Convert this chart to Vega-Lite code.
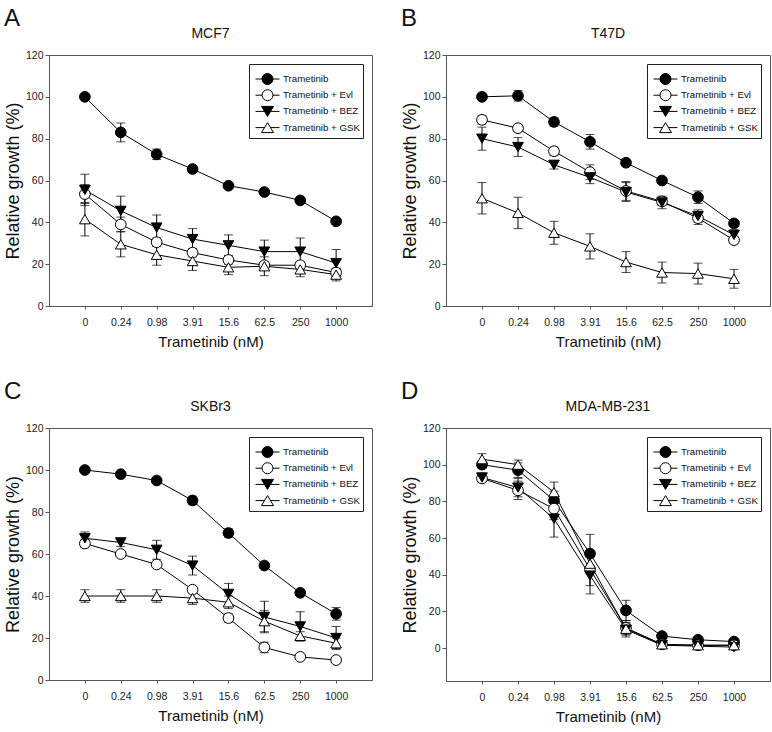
{
  "$schema": "https://vega.github.io/schema/vega-lite/v6.json",
  "padding": {"left": 3, "top": 6, "right": 0, "bottom": 0},
  "config": {
    "font": "Liberation Sans",
    "view": {"stroke": "#555", "strokeWidth": 1},
    "axis": {"grid": false, "domainColor": "#555", "tickColor": "#555", "labelColor": "#222", "titleColor": "#111", "titleFontWeight": "normal", "labelFont": "Liberation Sans", "titleFont": "Liberation Sans"},
    "title": {"font": "Liberation Sans", "fontWeight": "normal", "color": "#111"},
    "legend": {"labelFont": "Liberation Sans", "titleFont": "Liberation Sans"}
  },
  "datasets": {
    "L": [{"s": "Trametinib"}, {"s": "Trametinib + Evl"}, {"s": "Trametinib + BEZ"}, {"s": "Trametinib + GSK"}],
    "A": [
      {"s": "Trametinib", "d": "0", "v": 100, "lo": 99.5, "hi": 100.5},
      {"s": "Trametinib", "d": "0.24", "v": 83, "lo": 78.5, "hi": 87.5},
      {"s": "Trametinib", "d": "0.98", "v": 72.5, "lo": 70, "hi": 75},
      {"s": "Trametinib", "d": "3.91", "v": 65.5, "lo": 64, "hi": 67},
      {"s": "Trametinib", "d": "15.6", "v": 57.5, "lo": 56.5, "hi": 58.5},
      {"s": "Trametinib", "d": "62.5", "v": 54.5, "lo": 53.5, "hi": 55.5},
      {"s": "Trametinib", "d": "250", "v": 50.5, "lo": 49.5, "hi": 51.5},
      {"s": "Trametinib", "d": "1000", "v": 40.5, "lo": 39.5, "hi": 41.5},
      {"s": "Trametinib + Evl", "d": "0", "v": 53.5, "lo": 49, "hi": 58},
      {"s": "Trametinib + Evl", "d": "0.24", "v": 39, "lo": 35.5, "hi": 42.5},
      {"s": "Trametinib + Evl", "d": "0.98", "v": 30.5, "lo": 28.5, "hi": 32.5},
      {"s": "Trametinib + Evl", "d": "3.91", "v": 25.5, "lo": 23.5, "hi": 27.5},
      {"s": "Trametinib + Evl", "d": "15.6", "v": 22, "lo": 20, "hi": 24},
      {"s": "Trametinib + Evl", "d": "62.5", "v": 19.5, "lo": 18, "hi": 21},
      {"s": "Trametinib + Evl", "d": "250", "v": 19.5, "lo": 18, "hi": 21},
      {"s": "Trametinib + Evl", "d": "1000", "v": 16, "lo": 14, "hi": 18},
      {"s": "Trametinib + BEZ", "d": "0", "v": 55.5, "lo": 48, "hi": 63},
      {"s": "Trametinib + BEZ", "d": "0.24", "v": 45.5, "lo": 38.5, "hi": 52.5},
      {"s": "Trametinib + BEZ", "d": "0.98", "v": 37.5, "lo": 31.5, "hi": 43.5},
      {"s": "Trametinib + BEZ", "d": "3.91", "v": 32, "lo": 27, "hi": 37},
      {"s": "Trametinib + BEZ", "d": "15.6", "v": 29, "lo": 24, "hi": 34},
      {"s": "Trametinib + BEZ", "d": "62.5", "v": 26, "lo": 20.5, "hi": 31.5},
      {"s": "Trametinib + BEZ", "d": "250", "v": 26, "lo": 19.5, "hi": 32.5},
      {"s": "Trametinib + BEZ", "d": "1000", "v": 20.5, "lo": 14, "hi": 27},
      {"s": "Trametinib + GSK", "d": "0", "v": 41.5, "lo": 33.5, "hi": 49.5},
      {"s": "Trametinib + GSK", "d": "0.24", "v": 29.5, "lo": 23.5, "hi": 35.5},
      {"s": "Trametinib + GSK", "d": "0.98", "v": 24.5, "lo": 19.5, "hi": 29.5},
      {"s": "Trametinib + GSK", "d": "3.91", "v": 21.5, "lo": 17, "hi": 26},
      {"s": "Trametinib + GSK", "d": "15.6", "v": 18.5, "lo": 15, "hi": 22},
      {"s": "Trametinib + GSK", "d": "62.5", "v": 19, "lo": 14.5, "hi": 23.5},
      {"s": "Trametinib + GSK", "d": "250", "v": 17.5, "lo": 14, "hi": 21},
      {"s": "Trametinib + GSK", "d": "1000", "v": 15, "lo": 12, "hi": 18}
    ],
    "B": [
      {"s": "Trametinib", "d": "0", "v": 100, "lo": 99, "hi": 101},
      {"s": "Trametinib", "d": "0.24", "v": 100.5, "lo": 98, "hi": 103},
      {"s": "Trametinib", "d": "0.98", "v": 88, "lo": 86, "hi": 90},
      {"s": "Trametinib", "d": "3.91", "v": 78.5, "lo": 75, "hi": 82},
      {"s": "Trametinib", "d": "15.6", "v": 68.5, "lo": 67, "hi": 70},
      {"s": "Trametinib", "d": "62.5", "v": 60, "lo": 58.5, "hi": 61.5},
      {"s": "Trametinib", "d": "250", "v": 52, "lo": 49, "hi": 55},
      {"s": "Trametinib", "d": "1000", "v": 39.5, "lo": 38, "hi": 41},
      {"s": "Trametinib + Evl", "d": "0", "v": 89, "lo": 87, "hi": 91},
      {"s": "Trametinib + Evl", "d": "0.24", "v": 85, "lo": 83.5, "hi": 86.5},
      {"s": "Trametinib + Evl", "d": "0.98", "v": 74, "lo": 72, "hi": 76},
      {"s": "Trametinib + Evl", "d": "3.91", "v": 64, "lo": 60.5, "hi": 67.5},
      {"s": "Trametinib + Evl", "d": "15.6", "v": 55, "lo": 50.5, "hi": 59.5},
      {"s": "Trametinib + Evl", "d": "62.5", "v": 50, "lo": 48, "hi": 52},
      {"s": "Trametinib + Evl", "d": "250", "v": 42, "lo": 39, "hi": 45},
      {"s": "Trametinib + Evl", "d": "1000", "v": 31.5, "lo": 30, "hi": 33},
      {"s": "Trametinib + BEZ", "d": "0", "v": 80, "lo": 74.5, "hi": 85.5},
      {"s": "Trametinib + BEZ", "d": "0.24", "v": 76, "lo": 71.5, "hi": 80.5},
      {"s": "Trametinib + BEZ", "d": "0.98", "v": 67.5, "lo": 65.5, "hi": 69.5},
      {"s": "Trametinib + BEZ", "d": "3.91", "v": 61.5, "lo": 58.5, "hi": 64.5},
      {"s": "Trametinib + BEZ", "d": "15.6", "v": 54.5, "lo": 50, "hi": 59},
      {"s": "Trametinib + BEZ", "d": "62.5", "v": 49.5, "lo": 46.5, "hi": 52.5},
      {"s": "Trametinib + BEZ", "d": "250", "v": 43, "lo": 40, "hi": 46},
      {"s": "Trametinib + BEZ", "d": "1000", "v": 34, "lo": 31.5, "hi": 36.5},
      {"s": "Trametinib + GSK", "d": "0", "v": 51.5, "lo": 44, "hi": 59},
      {"s": "Trametinib + GSK", "d": "0.24", "v": 44.5, "lo": 37, "hi": 52},
      {"s": "Trametinib + GSK", "d": "0.98", "v": 35, "lo": 29.5, "hi": 40.5},
      {"s": "Trametinib + GSK", "d": "3.91", "v": 28.5, "lo": 22.5, "hi": 34.5},
      {"s": "Trametinib + GSK", "d": "15.6", "v": 21, "lo": 16, "hi": 26},
      {"s": "Trametinib + GSK", "d": "62.5", "v": 16, "lo": 11, "hi": 21},
      {"s": "Trametinib + GSK", "d": "250", "v": 15.5, "lo": 10.5, "hi": 20.5},
      {"s": "Trametinib + GSK", "d": "1000", "v": 13, "lo": 8.5, "hi": 17.5}
    ],
    "C": [
      {"s": "Trametinib", "d": "0", "v": 100, "lo": 99, "hi": 101},
      {"s": "Trametinib", "d": "0.24", "v": 98, "lo": 97, "hi": 99},
      {"s": "Trametinib", "d": "0.98", "v": 95, "lo": 94, "hi": 96},
      {"s": "Trametinib", "d": "3.91", "v": 85.5, "lo": 83.5, "hi": 87.5},
      {"s": "Trametinib", "d": "15.6", "v": 70, "lo": 68, "hi": 72},
      {"s": "Trametinib", "d": "62.5", "v": 54.5, "lo": 53.5, "hi": 55.5},
      {"s": "Trametinib", "d": "250", "v": 41.5, "lo": 40.5, "hi": 42.5},
      {"s": "Trametinib", "d": "1000", "v": 31.5, "lo": 28.5, "hi": 34.5},
      {"s": "Trametinib + Evl", "d": "0", "v": 65, "lo": 63, "hi": 67},
      {"s": "Trametinib + Evl", "d": "0.24", "v": 60, "lo": 59, "hi": 61},
      {"s": "Trametinib + Evl", "d": "0.98", "v": 55, "lo": 54, "hi": 56},
      {"s": "Trametinib + Evl", "d": "3.91", "v": 43, "lo": 42, "hi": 44},
      {"s": "Trametinib + Evl", "d": "15.6", "v": 29.5, "lo": 27.5, "hi": 31.5},
      {"s": "Trametinib + Evl", "d": "62.5", "v": 15.5, "lo": 13, "hi": 18},
      {"s": "Trametinib + Evl", "d": "250", "v": 11, "lo": 10, "hi": 12},
      {"s": "Trametinib + Evl", "d": "1000", "v": 9.5, "lo": 8.5, "hi": 10.5},
      {"s": "Trametinib + BEZ", "d": "0", "v": 67.5, "lo": 64.5, "hi": 70.5},
      {"s": "Trametinib + BEZ", "d": "0.24", "v": 65.5, "lo": 63.5, "hi": 67.5},
      {"s": "Trametinib + BEZ", "d": "0.98", "v": 62, "lo": 57.5, "hi": 66.5},
      {"s": "Trametinib + BEZ", "d": "3.91", "v": 54.5, "lo": 50, "hi": 59},
      {"s": "Trametinib + BEZ", "d": "15.6", "v": 41, "lo": 36, "hi": 46},
      {"s": "Trametinib + BEZ", "d": "62.5", "v": 30, "lo": 22.5, "hi": 37.5},
      {"s": "Trametinib + BEZ", "d": "250", "v": 25.5, "lo": 18.5, "hi": 32.5},
      {"s": "Trametinib + BEZ", "d": "1000", "v": 20, "lo": 14.5, "hi": 25.5},
      {"s": "Trametinib + GSK", "d": "0", "v": 40, "lo": 37, "hi": 43},
      {"s": "Trametinib + GSK", "d": "0.24", "v": 40, "lo": 37, "hi": 43},
      {"s": "Trametinib + GSK", "d": "0.98", "v": 40, "lo": 37, "hi": 43},
      {"s": "Trametinib + GSK", "d": "3.91", "v": 39, "lo": 36, "hi": 42},
      {"s": "Trametinib + GSK", "d": "15.6", "v": 37, "lo": 34, "hi": 40},
      {"s": "Trametinib + GSK", "d": "62.5", "v": 28, "lo": 23, "hi": 33},
      {"s": "Trametinib + GSK", "d": "250", "v": 21, "lo": 19, "hi": 23},
      {"s": "Trametinib + GSK", "d": "1000", "v": 17.5, "lo": 15, "hi": 20}
    ],
    "D": [
      {"s": "Trametinib", "d": "0", "v": 100, "lo": 98, "hi": 102},
      {"s": "Trametinib", "d": "0.24", "v": 97, "lo": 93, "hi": 101},
      {"s": "Trametinib", "d": "0.98", "v": 80.5, "lo": 75.5, "hi": 85.5},
      {"s": "Trametinib", "d": "3.91", "v": 51.5, "lo": 41, "hi": 62},
      {"s": "Trametinib", "d": "15.6", "v": 20.5, "lo": 15, "hi": 26},
      {"s": "Trametinib", "d": "62.5", "v": 6.5, "lo": 5.5, "hi": 7.5},
      {"s": "Trametinib", "d": "250", "v": 4.5, "lo": 4, "hi": 5},
      {"s": "Trametinib", "d": "1000", "v": 3.5, "lo": 3, "hi": 4},
      {"s": "Trametinib + Evl", "d": "0", "v": 92.5, "lo": 90.5, "hi": 94.5},
      {"s": "Trametinib + Evl", "d": "0.24", "v": 86, "lo": 81, "hi": 91},
      {"s": "Trametinib + Evl", "d": "0.98", "v": 76, "lo": 70, "hi": 82},
      {"s": "Trametinib + Evl", "d": "3.91", "v": 43, "lo": 34, "hi": 52},
      {"s": "Trametinib + Evl", "d": "15.6", "v": 11, "lo": 7, "hi": 15},
      {"s": "Trametinib + Evl", "d": "62.5", "v": 2, "lo": 1.5, "hi": 2.5},
      {"s": "Trametinib + Evl", "d": "250", "v": 1.5, "lo": 1, "hi": 2},
      {"s": "Trametinib + Evl", "d": "1000", "v": 1.5, "lo": 1, "hi": 2},
      {"s": "Trametinib + BEZ", "d": "0", "v": 93, "lo": 91, "hi": 95},
      {"s": "Trametinib + BEZ", "d": "0.24", "v": 87.5, "lo": 82.5, "hi": 92.5},
      {"s": "Trametinib + BEZ", "d": "0.98", "v": 70.5, "lo": 60.5, "hi": 80.5},
      {"s": "Trametinib + BEZ", "d": "3.91", "v": 39.5, "lo": 29.5, "hi": 49.5},
      {"s": "Trametinib + BEZ", "d": "15.6", "v": 10, "lo": 6, "hi": 14},
      {"s": "Trametinib + BEZ", "d": "62.5", "v": 1.5, "lo": 1, "hi": 2},
      {"s": "Trametinib + BEZ", "d": "250", "v": 1, "lo": 0.5, "hi": 1.5},
      {"s": "Trametinib + BEZ", "d": "1000", "v": 0.5, "lo": -0.5, "hi": 1.5},
      {"s": "Trametinib + GSK", "d": "0", "v": 103, "lo": 100, "hi": 106},
      {"s": "Trametinib + GSK", "d": "0.24", "v": 100, "lo": 97.5, "hi": 102.5},
      {"s": "Trametinib + GSK", "d": "0.98", "v": 85, "lo": 79.5, "hi": 90.5},
      {"s": "Trametinib + GSK", "d": "3.91", "v": 46, "lo": 41, "hi": 51},
      {"s": "Trametinib + GSK", "d": "15.6", "v": 10.5, "lo": 7.5, "hi": 13.5},
      {"s": "Trametinib + GSK", "d": "62.5", "v": 2, "lo": 1.5, "hi": 2.5},
      {"s": "Trametinib + GSK", "d": "250", "v": 1.5, "lo": 1, "hi": 2},
      {"s": "Trametinib + GSK", "d": "1000", "v": 1.5, "lo": 1, "hi": 2}
    ]
  },
  "spacing": 29,
  "vconcat": [
    {
      "spacing": 27,
      "hconcat": [
        {
          "title": {"text": "A", "anchor": "start", "frame": "bounds", "fontSize": 24, "offset": -4},
          "vconcat": [{
            "title": {"text": "MCF7", "fontSize": 14, "offset": 9},
            "width": 323, "height": 251,
            "layer": [
              {"data": {"name": "A"}, "mark": {"type": "errorbar", "ticks": {"size": 9}, "color": "black", "thickness": 1},
               "encoding": {"x": {"field": "d", "type": "ordinal", "title": "Trametinib (nM)", "scale": {"type": "point", "padding": 1, "domain": ["0","0.24","0.98","3.91","15.6","62.5","250","1000"]}, "axis": {"labelAngle": 0, "tickSize": 3, "labelPadding": 8, "labelFontSize": 10.5, "titleFontSize": 15, "titlePadding": 7}},
                 "y": {"field": "lo", "type": "quantitative", "title": "Relative growth (%)", "scale": {"domain": [0, 120], "nice": false, "zero": false}, "axis": {"values": [0,20,40,60,80,100,120], "tickSize": 4, "labelPadding": 2, "labelFontSize": 10.5, "titleFontSize": 18, "titlePadding": 3}},
                 "y2": {"field": "hi"}}},
              {"data": {"name": "A"}, "mark": {"type": "line", "color": "black", "strokeWidth": 1},
               "encoding": {"x": {"field": "d", "type": "ordinal", "title": "Trametinib (nM)"}, "y": {"field": "v", "type": "quantitative", "title": "Relative growth (%)"}, "detail": {"field": "s"}, "order": {"value": null}}},
              {"data": {"name": "A"}, "mark": {"type": "point", "filled": true, "stroke": "black", "strokeWidth": 1, "opacity": 1},
               "encoding": {"x": {"field": "d", "type": "ordinal", "title": "Trametinib (nM)"}, "y": {"field": "v", "type": "quantitative", "title": "Relative growth (%)"},
                 "shape": {"field": "s", "type": "nominal", "legend": null, "scale": {"domain": ["Trametinib","Trametinib + Evl","Trametinib + BEZ","Trametinib + GSK"], "range": ["circle","circle","triangle-down","triangle-up"]}},
                 "fill": {"field": "s", "type": "nominal", "legend": null, "scale": {"domain": ["Trametinib","Trametinib + Evl","Trametinib + BEZ","Trametinib + GSK"], "range": ["black","white","black","white"]}},
                 "size": {"field": "s", "type": "nominal", "legend": null, "scale": {"domain": ["Trametinib","Trametinib + Evl","Trametinib + BEZ","Trametinib + GSK"], "range": [115,115,140,140]}}}},
              {"data": {"name": "L"}, "mark": {"type": "point", "filled": true, "stroke": "black", "strokeWidth": 1, "opacity": 0},
               "encoding": {
                 "shape": {"field": "s", "type": "nominal", "scale": {"domain": ["Trametinib","Trametinib + Evl","Trametinib + BEZ","Trametinib + GSK"], "range": ["M0.733,0A0.733,0.733 0 1,1 -0.733,0A0.733,0.733 0 1,1 0.733,0Z M-1.6,0L-0.733,0M0.733,0L1.6,0", "M0.733,0A0.733,0.733 0 1,1 -0.733,0A0.733,0.733 0 1,1 0.733,0Z M-1.6,0L-0.733,0M0.733,0L1.6,0", "M-0.8,-0.667L0.8,-0.667L0,0.667Z M-1.6,0L-0.4,0M0.4,0L1.6,0", "M0,-0.667L0.8,0.667L-0.8,0.667Z M-1.6,0L-0.4,0M0.4,0L1.6,0"]},
                   "legend": {"title": " ", "titleFontSize": 4, "titlePadding": 0, "orient": "top-right", "offset": 9, "padding": 3, "strokeColor": "#222", "fillColor": "white", "labelFontSize": 9.7, "labelColor": "#111", "symbolSize": 225, "symbolStrokeColor": "black", "symbolStrokeWidth": 1, "symbolOpacity": 1, "rowPadding": 0.2, "labelOffset": 7.5, "symbolOffset": 7.5, "encode": {"symbols": {"update": {"stroke": {"value": "black"}, "strokeWidth": {"value": 1}, "opacity": {"value": 1}}}}}},
                 "fill": {"field": "s", "type": "nominal", "scale": {"domain": ["Trametinib","Trametinib + Evl","Trametinib + BEZ","Trametinib + GSK"], "range": ["black","white","black","white"]},
                   "legend": {"title": " ", "titleFontSize": 4, "titlePadding": 0, "orient": "top-right", "offset": 9, "padding": 3, "strokeColor": "#222", "fillColor": "white", "labelFontSize": 9.7, "labelColor": "#111", "symbolSize": 225, "symbolStrokeColor": "black", "symbolStrokeWidth": 1, "symbolOpacity": 1, "rowPadding": 0.2, "labelOffset": 7.5, "symbolOffset": 7.5, "encode": {"symbols": {"update": {"stroke": {"value": "black"}, "strokeWidth": {"value": 1}, "opacity": {"value": 1}}}}}}}}
            ],
            "resolve": {"scale": {"shape": "independent", "fill": "independent"}}
          }]
        },
        {
          "title": {"text": "B", "anchor": "start", "frame": "bounds", "fontSize": 24, "offset": -4},
          "vconcat": [{
            "title": {"text": "T47D", "fontSize": 14, "offset": 9},
            "width": 324, "height": 251,
            "layer": [
              {"data": {"name": "B"}, "mark": {"type": "errorbar", "ticks": {"size": 9}, "color": "black", "thickness": 1},
               "encoding": {"x": {"field": "d", "type": "ordinal", "title": "Trametinib (nM)", "scale": {"type": "point", "padding": 1, "domain": ["0","0.24","0.98","3.91","15.6","62.5","250","1000"]}, "axis": {"labelAngle": 0, "tickSize": 3, "labelPadding": 8, "labelFontSize": 10.5, "titleFontSize": 15, "titlePadding": 7}},
                 "y": {"field": "lo", "type": "quantitative", "title": "Relative growth (%)", "scale": {"domain": [0, 120], "nice": false, "zero": false}, "axis": {"values": [0,20,40,60,80,100,120], "tickSize": 4, "labelPadding": 2, "labelFontSize": 10.5, "titleFontSize": 18, "titlePadding": 3}},
                 "y2": {"field": "hi"}}},
              {"data": {"name": "B"}, "mark": {"type": "line", "color": "black", "strokeWidth": 1},
               "encoding": {"x": {"field": "d", "type": "ordinal", "title": "Trametinib (nM)"}, "y": {"field": "v", "type": "quantitative", "title": "Relative growth (%)"}, "detail": {"field": "s"}, "order": {"value": null}}},
              {"data": {"name": "B"}, "mark": {"type": "point", "filled": true, "stroke": "black", "strokeWidth": 1, "opacity": 1},
               "encoding": {"x": {"field": "d", "type": "ordinal", "title": "Trametinib (nM)"}, "y": {"field": "v", "type": "quantitative", "title": "Relative growth (%)"},
                 "shape": {"field": "s", "type": "nominal", "legend": null, "scale": {"domain": ["Trametinib","Trametinib + Evl","Trametinib + BEZ","Trametinib + GSK"], "range": ["circle","circle","triangle-down","triangle-up"]}},
                 "fill": {"field": "s", "type": "nominal", "legend": null, "scale": {"domain": ["Trametinib","Trametinib + Evl","Trametinib + BEZ","Trametinib + GSK"], "range": ["black","white","black","white"]}},
                 "size": {"field": "s", "type": "nominal", "legend": null, "scale": {"domain": ["Trametinib","Trametinib + Evl","Trametinib + BEZ","Trametinib + GSK"], "range": [115,115,140,140]}}}},
              {"data": {"name": "L"}, "mark": {"type": "point", "filled": true, "stroke": "black", "strokeWidth": 1, "opacity": 0},
               "encoding": {
                 "shape": {"field": "s", "type": "nominal", "scale": {"domain": ["Trametinib","Trametinib + Evl","Trametinib + BEZ","Trametinib + GSK"], "range": ["M0.733,0A0.733,0.733 0 1,1 -0.733,0A0.733,0.733 0 1,1 0.733,0Z M-1.6,0L-0.733,0M0.733,0L1.6,0", "M0.733,0A0.733,0.733 0 1,1 -0.733,0A0.733,0.733 0 1,1 0.733,0Z M-1.6,0L-0.733,0M0.733,0L1.6,0", "M-0.8,-0.667L0.8,-0.667L0,0.667Z M-1.6,0L-0.4,0M0.4,0L1.6,0", "M0,-0.667L0.8,0.667L-0.8,0.667Z M-1.6,0L-0.4,0M0.4,0L1.6,0"]},
                   "legend": {"title": " ", "titleFontSize": 4, "titlePadding": 0, "orient": "top-right", "offset": 9, "padding": 3, "strokeColor": "#222", "fillColor": "white", "labelFontSize": 9.7, "labelColor": "#111", "symbolSize": 225, "symbolStrokeColor": "black", "symbolStrokeWidth": 1, "symbolOpacity": 1, "rowPadding": 0.2, "labelOffset": 7.5, "symbolOffset": 7.5, "encode": {"symbols": {"update": {"stroke": {"value": "black"}, "strokeWidth": {"value": 1}, "opacity": {"value": 1}}}}}},
                 "fill": {"field": "s", "type": "nominal", "scale": {"domain": ["Trametinib","Trametinib + Evl","Trametinib + BEZ","Trametinib + GSK"], "range": ["black","white","black","white"]},
                   "legend": {"title": " ", "titleFontSize": 4, "titlePadding": 0, "orient": "top-right", "offset": 9, "padding": 3, "strokeColor": "#222", "fillColor": "white", "labelFontSize": 9.7, "labelColor": "#111", "symbolSize": 225, "symbolStrokeColor": "black", "symbolStrokeWidth": 1, "symbolOpacity": 1, "rowPadding": 0.2, "labelOffset": 7.5, "symbolOffset": 7.5, "encode": {"symbols": {"update": {"stroke": {"value": "black"}, "strokeWidth": {"value": 1}, "opacity": {"value": 1}}}}}}}}
            ],
            "resolve": {"scale": {"shape": "independent", "fill": "independent"}}
          }]
        }
      ]
    },
    {
      "spacing": 27,
      "hconcat": [
        {
          "title": {"text": "C", "anchor": "start", "frame": "bounds", "fontSize": 24, "offset": -4},
          "vconcat": [{
            "title": {"text": "SKBr3", "fontSize": 14, "offset": 9},
            "width": 323, "height": 252,
            "layer": [
              {"data": {"name": "C"}, "mark": {"type": "errorbar", "ticks": {"size": 9}, "color": "black", "thickness": 1},
               "encoding": {"x": {"field": "d", "type": "ordinal", "title": "Trametinib (nM)", "scale": {"type": "point", "padding": 1, "domain": ["0","0.24","0.98","3.91","15.6","62.5","250","1000"]}, "axis": {"labelAngle": 0, "tickSize": 3, "labelPadding": 8, "labelFontSize": 10.5, "titleFontSize": 15, "titlePadding": 7}},
                 "y": {"field": "lo", "type": "quantitative", "title": "Relative growth (%)", "scale": {"domain": [0, 120], "nice": false, "zero": false}, "axis": {"values": [0,20,40,60,80,100,120], "tickSize": 4, "labelPadding": 2, "labelFontSize": 10.5, "titleFontSize": 18, "titlePadding": 3}},
                 "y2": {"field": "hi"}}},
              {"data": {"name": "C"}, "mark": {"type": "line", "color": "black", "strokeWidth": 1},
               "encoding": {"x": {"field": "d", "type": "ordinal", "title": "Trametinib (nM)"}, "y": {"field": "v", "type": "quantitative", "title": "Relative growth (%)"}, "detail": {"field": "s"}, "order": {"value": null}}},
              {"data": {"name": "C"}, "mark": {"type": "point", "filled": true, "stroke": "black", "strokeWidth": 1, "opacity": 1},
               "encoding": {"x": {"field": "d", "type": "ordinal", "title": "Trametinib (nM)"}, "y": {"field": "v", "type": "quantitative", "title": "Relative growth (%)"},
                 "shape": {"field": "s", "type": "nominal", "legend": null, "scale": {"domain": ["Trametinib","Trametinib + Evl","Trametinib + BEZ","Trametinib + GSK"], "range": ["circle","circle","triangle-down","triangle-up"]}},
                 "fill": {"field": "s", "type": "nominal", "legend": null, "scale": {"domain": ["Trametinib","Trametinib + Evl","Trametinib + BEZ","Trametinib + GSK"], "range": ["black","white","black","white"]}},
                 "size": {"field": "s", "type": "nominal", "legend": null, "scale": {"domain": ["Trametinib","Trametinib + Evl","Trametinib + BEZ","Trametinib + GSK"], "range": [115,115,140,140]}}}},
              {"data": {"name": "L"}, "mark": {"type": "point", "filled": true, "stroke": "black", "strokeWidth": 1, "opacity": 0},
               "encoding": {
                 "shape": {"field": "s", "type": "nominal", "scale": {"domain": ["Trametinib","Trametinib + Evl","Trametinib + BEZ","Trametinib + GSK"], "range": ["M0.733,0A0.733,0.733 0 1,1 -0.733,0A0.733,0.733 0 1,1 0.733,0Z M-1.6,0L-0.733,0M0.733,0L1.6,0", "M0.733,0A0.733,0.733 0 1,1 -0.733,0A0.733,0.733 0 1,1 0.733,0Z M-1.6,0L-0.733,0M0.733,0L1.6,0", "M-0.8,-0.667L0.8,-0.667L0,0.667Z M-1.6,0L-0.4,0M0.4,0L1.6,0", "M0,-0.667L0.8,0.667L-0.8,0.667Z M-1.6,0L-0.4,0M0.4,0L1.6,0"]},
                   "legend": {"title": " ", "titleFontSize": 4, "titlePadding": 0, "orient": "top-right", "offset": 9, "padding": 3, "strokeColor": "#222", "fillColor": "white", "labelFontSize": 9.7, "labelColor": "#111", "symbolSize": 225, "symbolStrokeColor": "black", "symbolStrokeWidth": 1, "symbolOpacity": 1, "rowPadding": 0.2, "labelOffset": 7.5, "symbolOffset": 7.5, "encode": {"symbols": {"update": {"stroke": {"value": "black"}, "strokeWidth": {"value": 1}, "opacity": {"value": 1}}}}}},
                 "fill": {"field": "s", "type": "nominal", "scale": {"domain": ["Trametinib","Trametinib + Evl","Trametinib + BEZ","Trametinib + GSK"], "range": ["black","white","black","white"]},
                   "legend": {"title": " ", "titleFontSize": 4, "titlePadding": 0, "orient": "top-right", "offset": 9, "padding": 3, "strokeColor": "#222", "fillColor": "white", "labelFontSize": 9.7, "labelColor": "#111", "symbolSize": 225, "symbolStrokeColor": "black", "symbolStrokeWidth": 1, "symbolOpacity": 1, "rowPadding": 0.2, "labelOffset": 7.5, "symbolOffset": 7.5, "encode": {"symbols": {"update": {"stroke": {"value": "black"}, "strokeWidth": {"value": 1}, "opacity": {"value": 1}}}}}}}}
            ],
            "resolve": {"scale": {"shape": "independent", "fill": "independent"}}
          }]
        },
        {
          "title": {"text": "D", "anchor": "start", "frame": "bounds", "fontSize": 24, "offset": -4},
          "vconcat": [{
            "title": {"text": "MDA-MB-231", "fontSize": 14, "offset": 9},
            "width": 324, "height": 253,
            "layer": [
              {"data": {"name": "D"}, "mark": {"type": "errorbar", "ticks": {"size": 9}, "color": "black", "thickness": 1},
               "encoding": {"x": {"field": "d", "type": "ordinal", "title": "Trametinib (nM)", "scale": {"type": "point", "padding": 1, "domain": ["0","0.24","0.98","3.91","15.6","62.5","250","1000"]}, "axis": {"labelAngle": 0, "tickSize": 3, "labelPadding": 8, "labelFontSize": 10.5, "titleFontSize": 15, "titlePadding": 7}},
                 "y": {"field": "lo", "type": "quantitative", "title": "Relative growth (%)", "scale": {"domain": [-18, 120], "nice": false, "zero": false}, "axis": {"values": [0,20,40,60,80,100,120], "tickSize": 4, "labelPadding": 2, "labelFontSize": 10.5, "titleFontSize": 18, "titlePadding": 3}},
                 "y2": {"field": "hi"}}},
              {"data": {"name": "D"}, "mark": {"type": "line", "color": "black", "strokeWidth": 1},
               "encoding": {"x": {"field": "d", "type": "ordinal", "title": "Trametinib (nM)"}, "y": {"field": "v", "type": "quantitative", "title": "Relative growth (%)"}, "detail": {"field": "s"}, "order": {"value": null}}},
              {"data": {"name": "D"}, "mark": {"type": "point", "filled": true, "stroke": "black", "strokeWidth": 1, "opacity": 1},
               "encoding": {"x": {"field": "d", "type": "ordinal", "title": "Trametinib (nM)"}, "y": {"field": "v", "type": "quantitative", "title": "Relative growth (%)"},
                 "shape": {"field": "s", "type": "nominal", "legend": null, "scale": {"domain": ["Trametinib","Trametinib + Evl","Trametinib + BEZ","Trametinib + GSK"], "range": ["circle","circle","triangle-down","triangle-up"]}},
                 "fill": {"field": "s", "type": "nominal", "legend": null, "scale": {"domain": ["Trametinib","Trametinib + Evl","Trametinib + BEZ","Trametinib + GSK"], "range": ["black","white","black","white"]}},
                 "size": {"field": "s", "type": "nominal", "legend": null, "scale": {"domain": ["Trametinib","Trametinib + Evl","Trametinib + BEZ","Trametinib + GSK"], "range": [115,115,140,140]}}}},
              {"data": {"name": "L"}, "mark": {"type": "point", "filled": true, "stroke": "black", "strokeWidth": 1, "opacity": 0},
               "encoding": {
                 "shape": {"field": "s", "type": "nominal", "scale": {"domain": ["Trametinib","Trametinib + Evl","Trametinib + BEZ","Trametinib + GSK"], "range": ["M0.733,0A0.733,0.733 0 1,1 -0.733,0A0.733,0.733 0 1,1 0.733,0Z M-1.6,0L-0.733,0M0.733,0L1.6,0", "M0.733,0A0.733,0.733 0 1,1 -0.733,0A0.733,0.733 0 1,1 0.733,0Z M-1.6,0L-0.733,0M0.733,0L1.6,0", "M-0.8,-0.667L0.8,-0.667L0,0.667Z M-1.6,0L-0.4,0M0.4,0L1.6,0", "M0,-0.667L0.8,0.667L-0.8,0.667Z M-1.6,0L-0.4,0M0.4,0L1.6,0"]},
                   "legend": {"title": " ", "titleFontSize": 4, "titlePadding": 0, "orient": "top-right", "offset": 9, "padding": 3, "strokeColor": "#222", "fillColor": "white", "labelFontSize": 9.7, "labelColor": "#111", "symbolSize": 225, "symbolStrokeColor": "black", "symbolStrokeWidth": 1, "symbolOpacity": 1, "rowPadding": 0.2, "labelOffset": 7.5, "symbolOffset": 7.5, "encode": {"symbols": {"update": {"stroke": {"value": "black"}, "strokeWidth": {"value": 1}, "opacity": {"value": 1}}}}}},
                 "fill": {"field": "s", "type": "nominal", "scale": {"domain": ["Trametinib","Trametinib + Evl","Trametinib + BEZ","Trametinib + GSK"], "range": ["black","white","black","white"]},
                   "legend": {"title": " ", "titleFontSize": 4, "titlePadding": 0, "orient": "top-right", "offset": 9, "padding": 3, "strokeColor": "#222", "fillColor": "white", "labelFontSize": 9.7, "labelColor": "#111", "symbolSize": 225, "symbolStrokeColor": "black", "symbolStrokeWidth": 1, "symbolOpacity": 1, "rowPadding": 0.2, "labelOffset": 7.5, "symbolOffset": 7.5, "encode": {"symbols": {"update": {"stroke": {"value": "black"}, "strokeWidth": {"value": 1}, "opacity": {"value": 1}}}}}}}}
            ],
            "resolve": {"scale": {"shape": "independent", "fill": "independent"}}
          }]
        }
      ]
    }
  ]
}
